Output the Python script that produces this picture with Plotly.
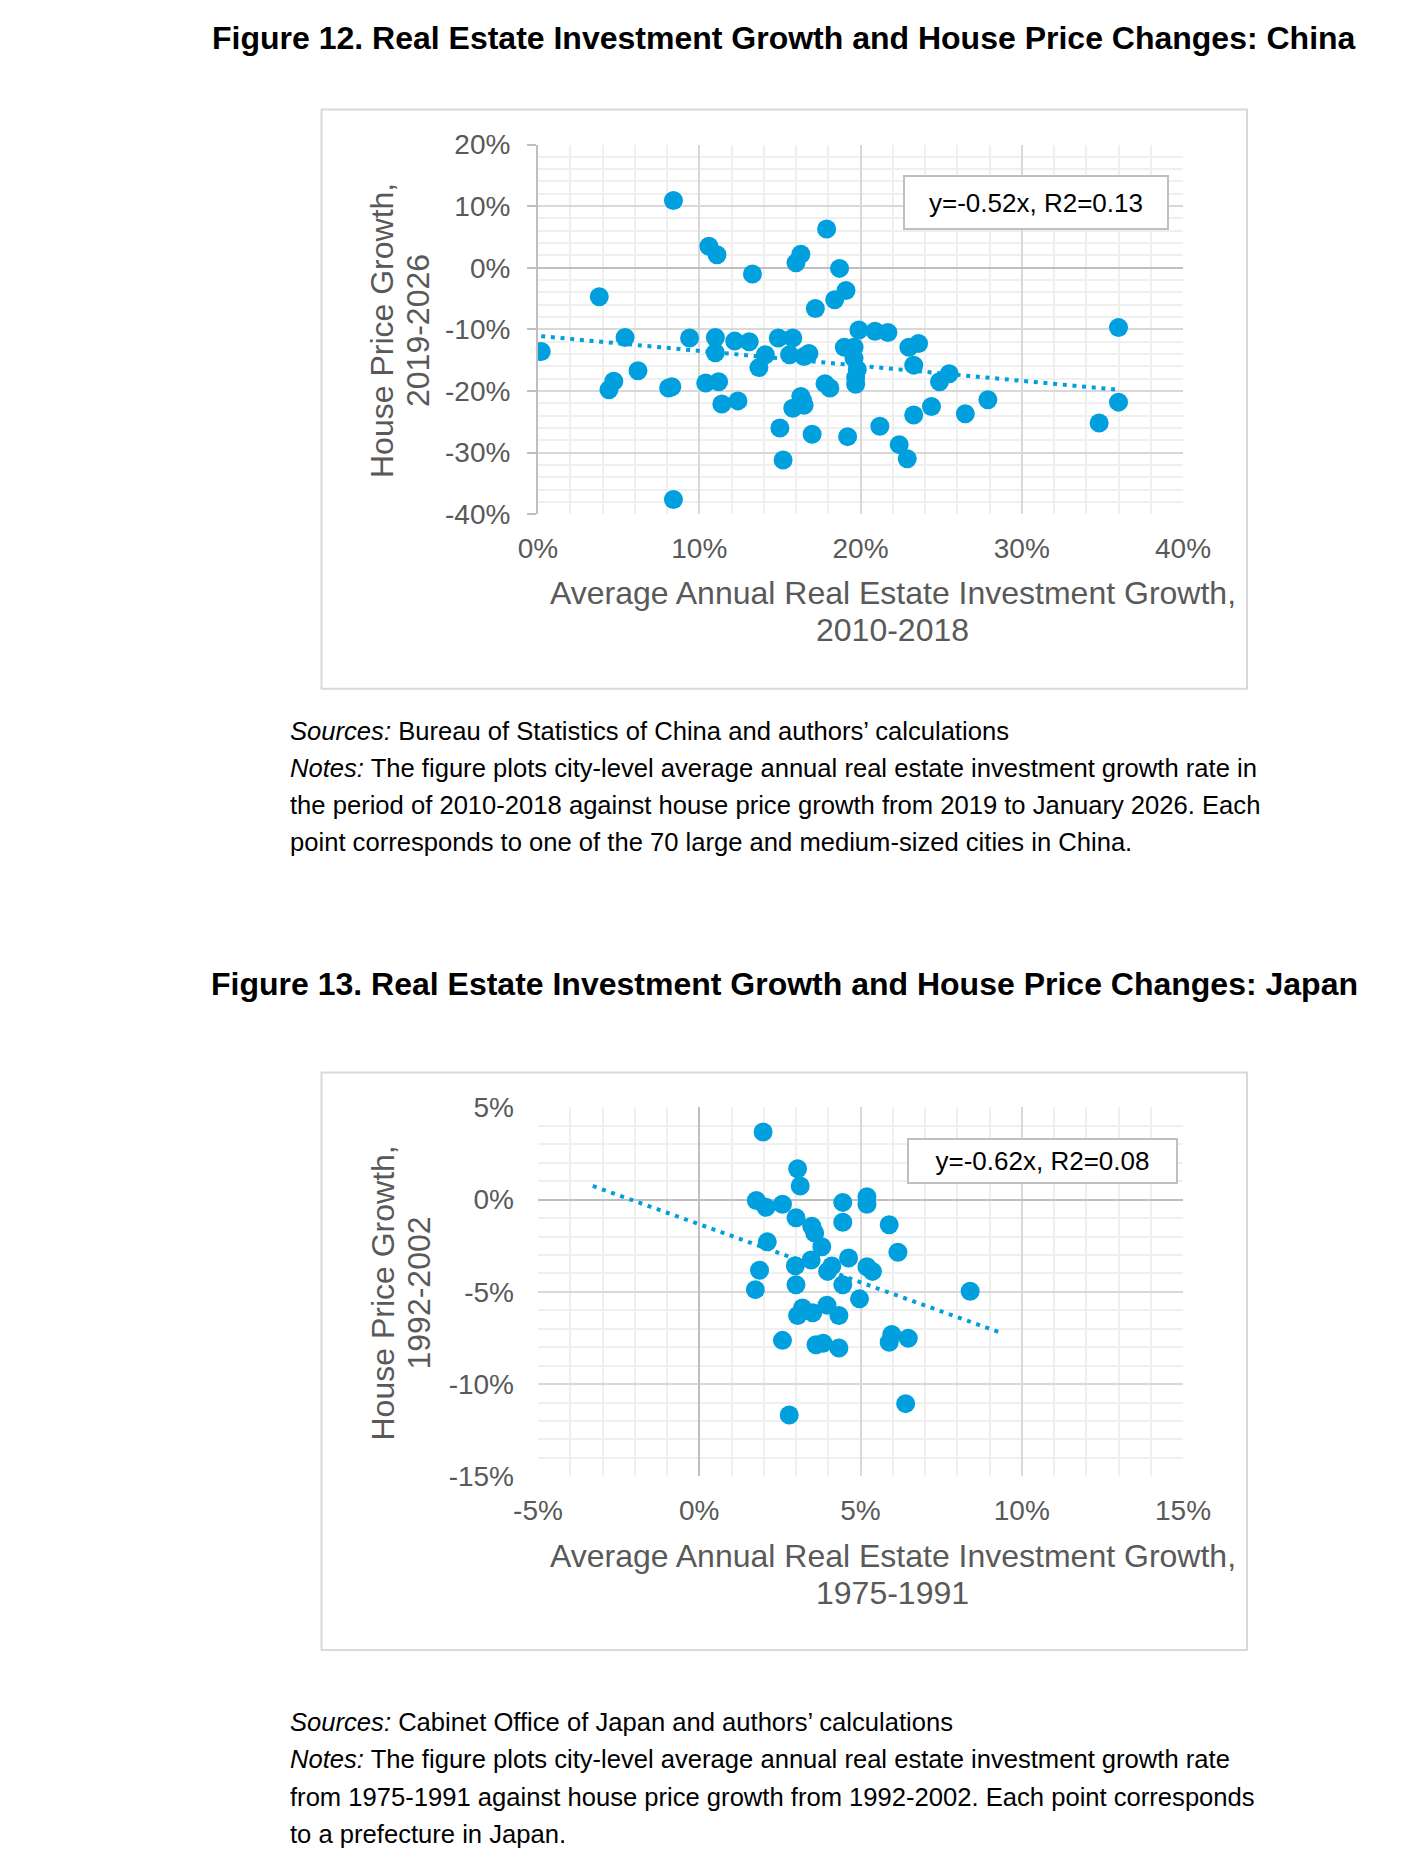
import plotly.graph_objects as go

# ---------------- data ----------------
china_x = [0.2, 3.8, 4.4, 4.7, 5.4, 6.2, 8.1, 8.3, 8.4, 8.4, 9.4, 10.6, 11.1, 11.0, 11.0, 10.4,
           11.2, 11.4, 12.2, 12.4, 13.1, 13.3, 13.7, 14.1, 14.9, 15.0, 15.2, 15.6, 15.8, 16.0,
           16.3, 15.8, 16.3, 16.5, 16.5, 16.8, 17.0, 17.2, 17.9, 17.8, 18.1, 18.4, 18.7, 19.1,
           19.0, 19.6, 19.6, 19.8, 19.7, 19.9, 19.2, 20.9, 21.7, 21.2, 22.4, 22.9, 23.0, 23.6,
           23.3, 23.3, 24.4, 24.9, 25.5, 26.5, 27.9, 34.8, 36.0, 36.0, 16.4, 19.7]
china_y = [-13.6, -4.7, -19.8, -18.4, -11.3, -16.7, -19.5, -19.3, 10.9, -37.6, -11.4, 3.5, 2.1,
           -11.3, -13.8, -18.7, -18.5, -22.1, -11.9, -21.6, -12.0, -1.0, -16.2, -14.1, -11.4,
           -26.0, -31.2, -14.1, -11.4, 0.8, 2.2, -22.8, -20.9, -22.3, -14.4, -13.9, -27.0,
           -6.6, 6.3, -18.8, -19.5, -5.2, -0.1, -3.7, -12.9, -12.9, -14.7, -16.5, -18.9, -10.1,
           -27.4, -10.3, -10.5, -25.7, -28.7, -31.0, -12.9, -12.3, -15.8, -23.9, -22.5, -18.5,
           -17.2, -23.7, -21.4, -25.2, -9.7, -21.8, -21.5, -17.8]
china_trend_x = [0.2, 36.0]
china_trend_y = [-11.1, -19.8]

japan_x = [1.98, 3.05, 3.13, 1.77, 2.07, 2.58, 3.00, 4.45, 5.20, 5.20, 4.45, 3.49, 3.58, 5.89,
           2.11, 3.80, 6.16, 4.63, 3.47, 2.98, 1.87, 4.11, 3.98, 5.20, 5.37, 3.00, 4.45, 1.74,
           8.40, 4.97, 3.20, 3.05, 3.52, 3.96, 4.33, 2.58, 3.62, 3.84, 4.33, 5.97, 5.89, 6.48,
           2.79, 6.40]
japan_y = [3.67, 1.67, 0.74, -0.05, -0.42, -0.25, -0.98, -0.15, 0.16, -0.25, -1.23, -1.44,
           -1.81, -1.36, -2.29, -2.56, -2.85, -3.16, -3.27, -3.58, -3.83, -3.60, -3.89, -3.64,
           -3.89, -4.61, -4.61, -4.88, -4.97, -5.38, -5.88, -6.28, -6.13, -5.72, -6.28, -7.63,
           -7.87, -7.79, -8.04, -7.31, -7.73, -7.52, -11.68, -11.06]
japan_trend_x = [-3.3, 9.4]
japan_trend_y = [0.74, -7.25]

china_xtick_vals = [0, 10, 20, 30, 40]
china_xtick_text = ["0%", "10%", "20%", "30%", "40%"]
china_ytick_vals = [20, 10, 0, -10, -20, -30, -40]
china_ytick_text = ["20%", "10%", "0%", "-10%", "-20%", "-30%", "-40%"]
japan_xtick_vals = [-5, 0, 5, 10, 15]
japan_xtick_text = ["-5%", "0%", "5%", "10%", "15%"]
japan_ytick_vals = [5, 0, -5, -10, -15]
japan_ytick_text = ["5%", "0%", "-5%", "-10%", "-15%"]

china_title = "Figure 12. Real Estate Investment Growth and House Price Changes: China"
japan_title = "Figure 13. Real Estate Investment Growth and House Price Changes: Japan"
china_eq = "y=-0.52x, R2=0.13"
japan_eq = "y=-0.62x, R2=0.08"
china_xtitle = ["Average Annual Real Estate Investment Growth,", "2010-2018"]
japan_xtitle = ["Average Annual Real Estate Investment Growth,", "1975-1991"]
china_ytitle = ["House Price Growth,", "2019-2026"]
japan_ytitle = ["House Price Growth,", "1992-2002"]
china_notes = [
    "<i>Sources:</i> Bureau of Statistics of China and authors\u2019 calculations",
    "<i>Notes:</i> The figure plots city-level average annual real estate investment growth rate in",
    "the period of 2010-2018 against house price growth from 2019 to January 2026. Each",
    "point corresponds to one of the 70 large and medium-sized cities in China.",
]
japan_notes = [
    "<i>Sources:</i> Cabinet Office of Japan and authors\u2019 calculations",
    "<i>Notes:</i> The figure plots city-level average annual real estate investment growth rate",
    "from 1975-1991 against house price growth from 1992-2002. Each point corresponds",
    "to a prefecture in Japan.",
]

# ---------------- layout helpers ----------------
W, H = 1385, 1850
OFF = 8  # default body margin of the page


def px(x):
    return (x - OFF) / W


def py(y):
    return 1 - (y - OFF) / H


FONT = "Liberation Sans, Arial, sans-serif"
BLUE = "#009FDD"
GRAY_TXT = "#595959"
MAJOR = "#d9d9d9"
MINOR = "#efefef"
AXIS = "#bfbfbf"

fig = go.Figure()

fig.add_trace(go.Scatter(x=china_trend_x, y=china_trend_y, mode="lines",
                         line=dict(color=BLUE, width=4, dash="4px,5.7px"),
                         xaxis="x", yaxis="y", showlegend=False, hoverinfo="skip"))
fig.add_trace(go.Scatter(x=china_x, y=china_y, mode="markers",
                         marker=dict(color=BLUE, size=19, line=dict(width=0)),
                         xaxis="x", yaxis="y", showlegend=False))
fig.add_trace(go.Scatter(x=japan_trend_x, y=japan_trend_y, mode="lines",
                         line=dict(color=BLUE, width=4, dash="4px,5.7px"),
                         xaxis="x2", yaxis="y2", showlegend=False, hoverinfo="skip"))
fig.add_trace(go.Scatter(x=japan_x, y=japan_y, mode="markers",
                         marker=dict(color=BLUE, size=19, line=dict(width=0)),
                         xaxis="x2", yaxis="y2", showlegend=False))

tickfont = dict(family=FONT, size=28, color=GRAY_TXT)


def xaxis_cfg(rng, vals, text, minor_dt, anchor, zeroline):
    return dict(domain=[px(538), px(1183)], range=rng, tickvals=vals, ticktext=text,
                showgrid=True, gridcolor=MAJOR, gridwidth=2,
                minor=dict(dtick=minor_dt, showgrid=True, gridcolor=MINOR, gridwidth=1.5, ticks=""),
                zeroline=zeroline, zerolinecolor=AXIS, zerolinewidth=2,
                showline=False, ticks="", tickfont=tickfont, anchor=anchor,
                ticklabelstandoff=15, automargin=False, fixedrange=True)


def yaxis_cfg(rng, vals, text, minor_dt, anchor, top, bottom, axisline):
    d = dict(domain=[py(bottom), py(top)], range=rng, tickvals=vals, ticktext=text,
             showgrid=True, gridcolor=MAJOR, gridwidth=2,
             minor=dict(dtick=minor_dt, showgrid=True, gridcolor=MINOR, gridwidth=1.5, ticks=""),
             zeroline=True, zerolinecolor=AXIS, zerolinewidth=2,
             tickfont=tickfont, anchor=anchor, automargin=False, fixedrange=True)
    if axisline:
        d.update(showline=True, linecolor=AXIS, linewidth=2, ticks="outside",
                 ticklen=9, tickwidth=2, tickcolor=AXIS, ticklabelstandoff=11)
    else:
        d.update(showline=False, ticks="", ticklabelstandoff=23)
    return d


fig.update_layout(
    width=W, height=H, margin=dict(l=0, r=0, t=0, b=0, autoexpand=False),
    paper_bgcolor="white", plot_bgcolor="white", showlegend=False,
    font=dict(family=FONT),
    xaxis=xaxis_cfg([0, 40], china_xtick_vals, china_xtick_text, 2, "y", False),
    yaxis=yaxis_cfg([-40, 20], china_ytick_vals, china_ytick_text, 2, "x", 144.5, 514.3, True),
    xaxis2=xaxis_cfg([-5, 15], japan_xtick_vals, japan_xtick_text, 1, "y2", True),
    yaxis2=yaxis_cfg([-15, 5], japan_ytick_vals, japan_ytick_text, 1, "x2", 1107.4, 1476.3, False),
)

# chart frames
for top, bottom in [(109.6, 688.7), (1072.6, 1650.0)]:
    fig.add_shape(type="rect", xref="paper", yref="paper",
                  x0=px(321.5), x1=px(1247), y0=py(bottom), y1=py(top),
                  line=dict(color=MAJOR, width=2), fillcolor="rgba(0,0,0,0)", layer="below")

ann = []
# titles
for t, yc in [(china_title, 37.6), (japan_title, 984.0)]:
    ann.append(dict(text="<b>%s</b>" % t, x=px(784.3), y=py(yc), xref="paper", yref="paper",
                    xanchor="center", yanchor="middle", showarrow=False,
                    font=dict(family=FONT, size=32, color="black")))

# equation boxes
for t, xc, yc, bw, bh in [(china_eq, 1036, 202, 262, 51), (japan_eq, 1042, 1160.7, 267, 42)]:
    ann.append(dict(text=t, x=px(xc), y=py(yc), xref="paper", yref="paper",
                    xanchor="center", yanchor="middle", showarrow=False,
                    width=bw, height=bh, align="center", valign="middle",
                    bgcolor="white", bordercolor=AXIS, borderwidth=2, borderpad=0,
                    font=dict(family=FONT, size=26, color="black")))

# axis titles
for lines, y1, y2 in [(china_xtitle, 593, 629.5), (japan_xtitle, 1556.3, 1593)]:
    for t, yc in zip(lines, [y1, y2]):
        ann.append(dict(text=t, x=px(892.5), y=py(yc), xref="paper", yref="paper",
                        xanchor="center", yanchor="middle", showarrow=False,
                        font=dict(family=FONT, size=32, color=GRAY_TXT)))
for lines, yc in [(china_ytitle, 331), (japan_ytitle, 1293.5)]:
    for t, xc in zip(lines, [382, 418]):
        ann.append(dict(text=t, x=px(xc), y=py(yc), xref="paper", yref="paper",
                        xanchor="center", yanchor="middle", showarrow=False, textangle=-90,
                        font=dict(family=FONT, size=32, color=GRAY_TXT)))

# notes
for lines, y0 in [(china_notes, 730.8), (japan_notes, 1722.2)]:
    for i, t in enumerate(lines):
        ann.append(dict(text=t, x=px(287.6), y=py(y0 + 37.2 * i), xref="paper", yref="paper",
                        xanchor="left", yanchor="middle", showarrow=False, align="left",
                        font=dict(family=FONT, size=25.6, color="black")))

fig.update_layout(annotations=ann)

fig.write_html("out.html", config={"displayModeBar": False})
